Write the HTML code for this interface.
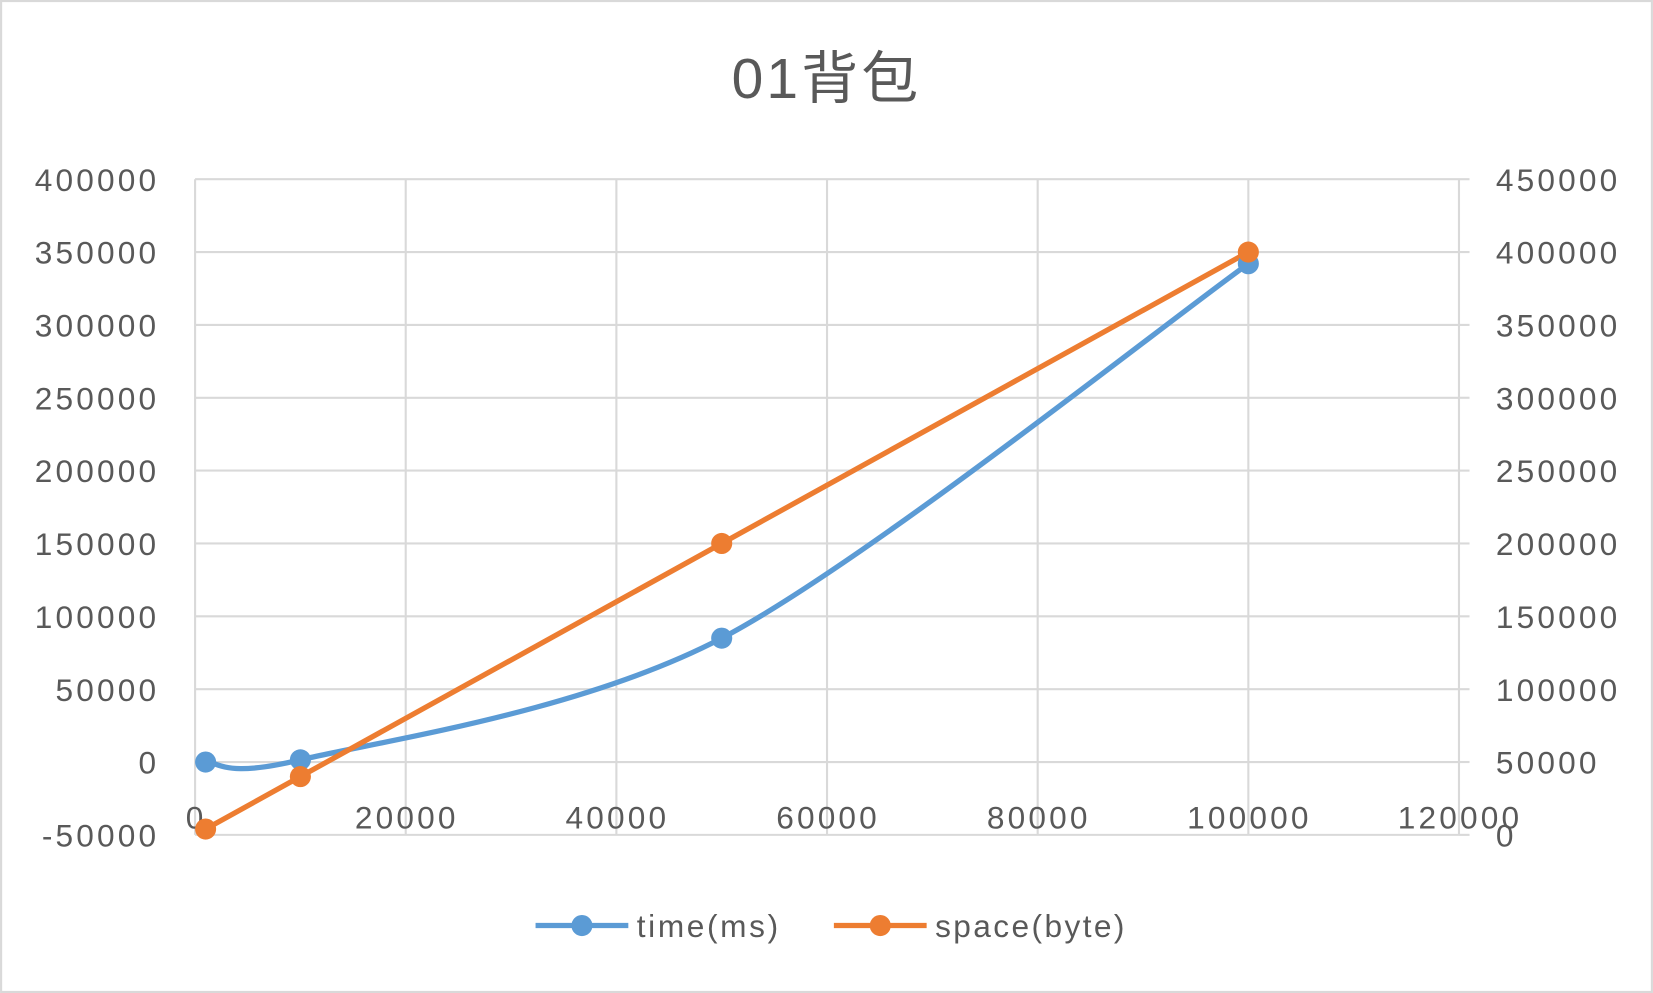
<!DOCTYPE html>
<html><head><meta charset="utf-8"><style>
html,body{margin:0;padding:0;background:#fff;}
svg{display:block;font-family:"Liberation Sans","Noto Sans CJK SC",sans-serif;}
</style></head><body>
<svg id="chart" width="1653" height="993" viewBox="0 0 1568 942" xmlns="http://www.w3.org/2000/svg">
<rect x="1" y="1" width="1566" height="940" fill="#fff" stroke="#d9d9d9" stroke-width="2"/>
<text x="784" y="93" text-anchor="middle" font-size="54" letter-spacing="3" fill="#595959">01背包</text>
<g id="grid"></g><g id="axes"></g><g id="series"></g>
<g>
<line x1="508" y1="878" x2="596" y2="878" stroke="#5b9bd5" stroke-width="5"/>
<circle cx="552" cy="878" r="10" fill="#5b9bd5"/>
<text x="604" y="889" font-size="30" letter-spacing="2.5" fill="#595959">time(ms)</text>
<line x1="791" y1="878" x2="879" y2="878" stroke="#ed7d31" stroke-width="5"/>
<circle cx="835" cy="878" r="10" fill="#ed7d31"/>
<text x="887" y="889" font-size="30" letter-spacing="2.3" fill="#595959">space(byte)</text>
</g>
</svg>
<script>
const xValues=[1000,10000,50000,100000];
const timeValues=[0,1500,85000,342000];
const spaceValues=[4000,40000,200000,400000];
const xTicks=[0,20000,40000,60000,80000,100000,120000];
const leftTicks=[-50000,0,50000,100000,150000,200000,250000,300000,350000,400000];
const rightTicks=[0,50000,100000,150000,200000,250000,300000,350000,400000,450000];
const NS="http://www.w3.org/2000/svg";
const L=185,R=1384,T=170,B=792;
const sx=v=>L+(v-0)/(120000)*(R-L);
const syL=v=>B-(v+50000)/450000*(B-T);
const syR=v=>B-v/450000*(B-T);
function mk(tag,attrs,parent){const e=document.createElementNS(NS,tag);for(const k in attrs)e.setAttribute(k,attrs[k]);parent.appendChild(e);return e;}
const grid=document.getElementById('grid'),axes=document.getElementById('axes'),ser=document.getElementById('series');
leftTicks.forEach(v=>{const y=syL(v);
const g=mk('line',{x1:L,x2:R,y1:y,y2:y,stroke:'#d9d9d9','stroke-width':2},grid);


const t=mk('text',{x:151,y:y+11,'text-anchor':'end','font-size':30,'letter-spacing':3,fill:'#595959'},axes);t.textContent=v;

});
xTicks.forEach(v=>{const x=sx(v);
const g=mk('line',{x1:x,x2:x,y1:T,y2:B,stroke:'#d9d9d9','stroke-width':2},grid);


const t=mk('text',{x:x+1,y:786,'text-anchor':'middle','font-size':30,'letter-spacing':3,fill:'#595959'},axes);t.textContent=v;

});
rightTicks.forEach(v=>{const y=syR(v);
const k=mk('line',{x1:R,x2:R+10,y1:y,y2:y,stroke:'#d9d9d9','stroke-width':2},axes);


const t=mk('text',{x:1419,y:y+11,'font-size':30,'letter-spacing':3,fill:'#595959'},axes);t.textContent=v;

});
const tp=xValues.map((x,i)=>[sx(x),syL(timeValues[i])]);
let d='M'+tp[0][0]+','+tp[0][1];
for(let i=0;i<tp.length-1;i++){const p0=tp[Math.max(0,i-1)],p1=tp[i],p2=tp[i+1],p3=tp[Math.min(tp.length-1,i+2)];
const k=0.15;d+=' C'+(p1[0]+(p2[0]-p0[0])*k)+','+(p1[1]+(p2[1]-p0[1])*k)+' '+(p2[0]-(p3[0]-p1[0])*k)+','+(p2[1]-(p3[1]-p1[1])*k)+' '+p2[0]+','+p2[1];}
const tl=mk('path',{d:d,fill:'none',stroke:'#5b9bd5','stroke-width':5},ser);


const sp=xValues.map((x,i)=>sx(x)+','+syR(spaceValues[i])).join(' ');
const sl=mk('polyline',{points:sp,fill:'none',stroke:'#ed7d31','stroke-width':5},ser);


tp.forEach(p=>{const c=mk('circle',{cx:p[0],cy:p[1],r:10,fill:'#5b9bd5'},ser);

});
xValues.forEach((x,i)=>{const c=mk('circle',{cx:sx(x),cy:syR(spaceValues[i]),r:10,fill:'#ed7d31'},ser);

});
</script>
</body></html>
